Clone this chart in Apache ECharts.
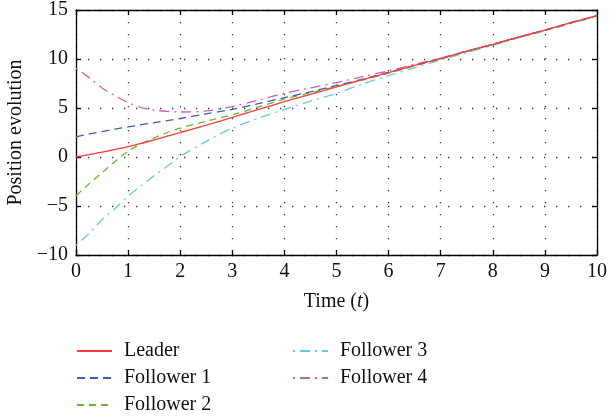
<!DOCTYPE html>
<html>
<head>
<meta charset="utf-8">
<script src="https://cdn.jsdelivr.net/npm/echarts@6/dist/echarts.min.js"></script>
<style>html,body{margin:0;padding:0;background:#fff}#c{width:610px;height:419px}</style>
</head>
<body>
<div id="c"></div>
<script>
var time      = [0,0.25,0.5,0.75,1,1.25,1.5,1.75,2,2.5,3,3.5,4,4.5,5,5.5,6,6.5,7,7.5,8,8.5,9,9.5,10];
var leader    = [0,0.24,0.5,0.77,1.05,1.38,1.75,2.12,2.5,3.25,4.05,4.85,5.65,6.4,7.15,7.9,8.6,9.35,10.05,10.8,11.5,12.25,12.95,13.7,14.42];
var follower1 = [2.05,2.35,2.6,2.85,3.07,3.3,3.5,3.72,3.93,4.4,4.86,5.45,6.05,6.65,7.3,7.95,8.65,9.35,10.05,10.8,11.5,12.25,12.95,13.7,14.42];
var follower2 = [-3.95,-2.75,-1.6,-0.45,0.6,1.35,1.95,2.5,2.95,3.65,4.3,5.1,5.9,6.55,7.2,7.85,8.55,9.3,10.0,10.75,11.45,12.2,12.9,13.65,14.4];
var follower3 = [-9.0,-7.8,-6.4,-5.25,-4.0,-2.95,-1.9,-0.95,0.05,1.6,2.95,3.95,4.85,5.7,6.5,7.45,8.3,9.1,9.9,10.65,11.4,12.15,12.9,13.62,14.36];
var follower4 = [9.05,8.1,7.05,6.25,5.55,5.05,4.78,4.66,4.59,4.7,5.15,5.8,6.5,7.05,7.6,8.2,8.8,9.45,10.1,10.8,11.5,12.25,12.95,13.7,14.42];
var names = ['Leader','Follower 1','Follower 2','Follower 3','Follower 4'];
var xTicks = [0,1,2,3,4,5,6,7,8,9,10];
var yTicks = [-10,-5,0,5,10,15];

var FONT = 'Liberation Serif';
var FS = 20;
function pairs(v){ return time.map(function(t,i){ return [t, v[i]]; }); }
var styles = [
  {color:'#ff3b3b', type:'solid'},
  {color:'#3d5fae', type:[8,5]},
  {color:'#66bb33', type:[7,5]},
  {color:'#66ccdd', type:[2,5,10,5]},
  {color:'#c560b8', type:[2,5,10,5]}
];
var vals = [leader,follower1,follower2,follower3,follower4];
var series = vals.map(function(v,i){
  return {name:names[i], type:'line', data:pairs(v), smooth:0.3, symbol:'none',
    xAxisIndex:0, yAxisIndex:0,
    lineStyle:{color:styles[i].color, width:1.3, type:styles[i].type},
    itemStyle:{color:styles[i].color}, z: 5 - i};
});
function fmt(v){ return String(v).replace('-', '\u2212'); }
var axLine = {show:true, onZero:false, lineStyle:{color:'#000', width:1.3}};
var tick = {show:true, inside:true, length:5, lineStyle:{color:'#000', width:1.3}};
var split = {show:true, lineStyle:{color:'#3a3a3a', width:1.3, type:[1.3,10.7]}};
var legendCommon = {orient:'vertical', top:341, itemWidth:35, itemHeight:14, itemGap:7, padding:0,
  itemStyle:{opacity:0},
  textStyle:{fontFamily:FONT, fontSize:FS, color:'#111', lineHeight:20, padding:[0,0,0,7]}};
var chart = echarts.init(document.getElementById('c'), null, {renderer:'canvas'});
chart.setOption({
  animation:false,
  backgroundColor:'#fff',
  grid:{left:76, right:13, top:10, bottom:164, containLabel:false, outerBoundsMode:'none'},
  xAxis:[
    {type:'value', min:xTicks[0], max:xTicks[xTicks.length-1], interval:1, position:'bottom',
     axisLine:axLine, axisTick:tick, splitLine:split,
     axisLabel:{color:'#111', fontFamily:FONT, fontSize:FS, margin:7, formatter:fmt},
     name:'Time ({i|t})', nameLocation:'middle', nameGap:37,
     nameTextStyle:{color:'#111', fontFamily:FONT, fontSize:FS,
       rich:{i:{fontFamily:FONT, fontSize:FS, fontStyle:'italic', color:'#111'}}}},
    {type:'value', min:xTicks[0], max:xTicks[xTicks.length-1], interval:1, position:'top',
     axisLine:axLine, axisTick:tick, splitLine:{show:false}, axisLabel:{show:false}}
  ],
  yAxis:[
    {type:'value', min:yTicks[0], max:yTicks[yTicks.length-1], interval:5, position:'left',
     axisLine:axLine, axisTick:tick, splitLine:split,
     axisLabel:{color:'#111', fontFamily:FONT, fontSize:FS, margin:8, formatter:fmt},
     name:'Position evolution', nameLocation:'middle', nameGap:47, nameRotate:90,
     nameTextStyle:{color:'#111', fontFamily:FONT, fontSize:FS}},
    {type:'value', min:yTicks[0], max:yTicks[yTicks.length-1], interval:5, position:'right',
     axisLine:axLine, axisTick:tick, splitLine:{show:false}, axisLabel:{show:false}}
  ],
  legend:[
    Object.assign({data:names.slice(0,3), left:76}, legendCommon),
    Object.assign({data:names.slice(3), left:292}, legendCommon)
  ],
  series:series
});
</script>
</body>
</html>
